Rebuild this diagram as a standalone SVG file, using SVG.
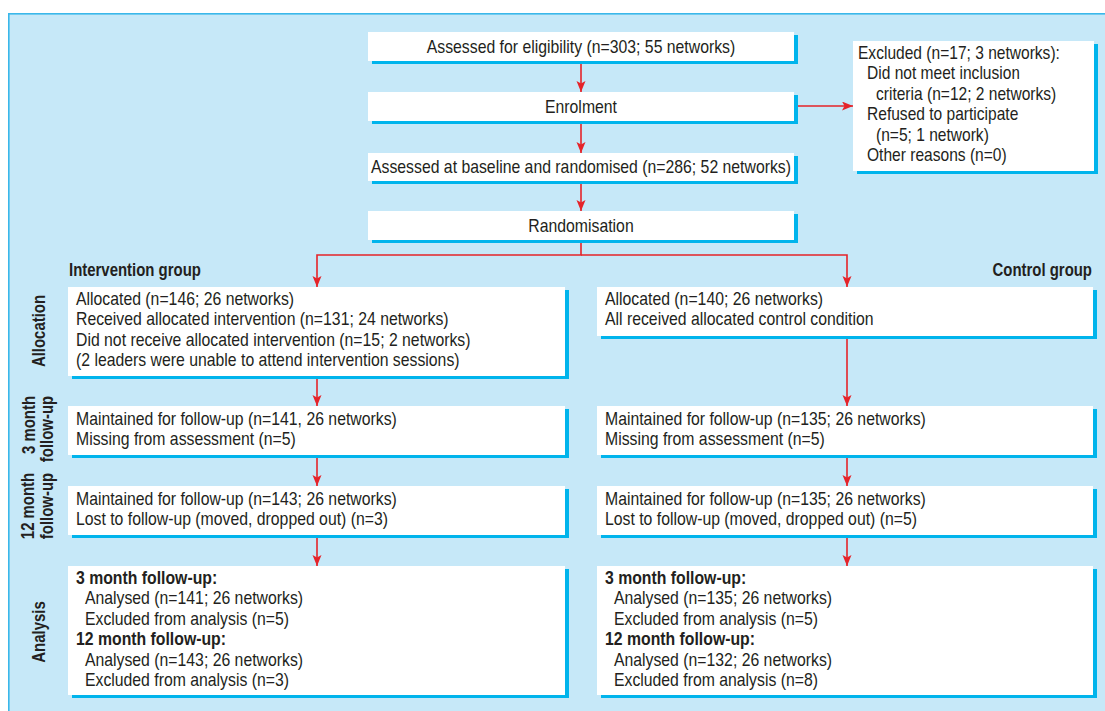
<svg xmlns="http://www.w3.org/2000/svg" width="1105" height="711" viewBox="0 0 1105 711">
<style>
.bg{fill:#c6e8f8;stroke:#3ab7ea;stroke-width:1.6}
.box{fill:#ffffff}
.sh{fill:#00b4ec}
.t{font-family:"Liberation Sans",Arial,sans-serif;font-size:18px;fill:#231f20}
.b{font-weight:bold}
.c{text-anchor:middle}
.e{text-anchor:end}
.ln{stroke:#e52329;stroke-width:1.6;fill:none}
</style>
<defs>
<marker id="ah" markerUnits="userSpaceOnUse" markerWidth="12" markerHeight="12" refX="11" refY="4.5" orient="auto">
<path d="M0,0 L11,4.5 L0,9 L2.5,4.5 z" fill="#e52329"/>
</marker>
</defs>
<rect width="1105" height="711" fill="#ffffff"/>
<rect class="bg" x="8.8" y="13.8" width="1100" height="700"/>

<g id="labels">
<text class="t b" transform="matrix(0.83,0,0,1,69,275.5)">Intervention group</text>
<text class="t b e" transform="matrix(0.83,0,0,1,1092,275.5)">Control group</text>
<text class="t b c" transform="translate(45,331) rotate(-90) scale(0.83,1)">Allocation</text>
<text class="t b c" transform="translate(35,425) rotate(-90) scale(0.83,1)">3 month</text>
<text class="t b c" transform="translate(53,429) rotate(-90) scale(0.83,1)">follow-up</text>
<text class="t b c" transform="translate(34,506) rotate(-90) scale(0.83,1)">12 month</text>
<text class="t b c" transform="translate(53,506) rotate(-90) scale(0.83,1)">follow-up</text>
<text class="t b c" transform="translate(45,632) rotate(-90) scale(0.83,1)">Analysis</text>
</g>

<g id="connectors">
<line class="ln" x1="581" y1="62" x2="581" y2="92" marker-end="url(#ah)"/>
<line class="ln" x1="581" y1="122" x2="581" y2="153" marker-end="url(#ah)"/>
<line class="ln" x1="581" y1="182" x2="581" y2="211" marker-end="url(#ah)"/>
<line class="ln" x1="794" y1="106" x2="853" y2="106" marker-end="url(#ah)"/>
<polyline class="ln" points="581,241 581,255 317,255 317,287" marker-end="url(#ah)"/>
<polyline class="ln" points="581,255 847,255 847,287" marker-end="url(#ah)"/>
<line class="ln" x1="317" y1="377" x2="317" y2="406" marker-end="url(#ah)"/>
<line class="ln" x1="317" y1="456" x2="317" y2="486" marker-end="url(#ah)"/>
<line class="ln" x1="317" y1="536" x2="317" y2="566" marker-end="url(#ah)"/>
<line class="ln" x1="847" y1="337" x2="847" y2="406" marker-end="url(#ah)"/>
<line class="ln" x1="847" y1="456" x2="847" y2="486" marker-end="url(#ah)"/>
<line class="ln" x1="847" y1="536" x2="847" y2="566" marker-end="url(#ah)"/>
</g>

<g id="eligibility">
<rect class="sh" x="372" y="35" width="426" height="29"/>
<rect class="box" x="368" y="32" width="426" height="29"/>
<text class="t c" transform="matrix(0.878,0,0,1,581,52.5)">Assessed for eligibility (n=303; 55 networks)</text>
</g>
<g id="enrolment">
<rect class="sh" x="372" y="95" width="426" height="29"/>
<rect class="box" x="368" y="92" width="426" height="29"/>
<text class="t c" transform="matrix(0.878,0,0,1,581,112.5)">Enrolment</text>
</g>
<g id="baseline">
<rect class="sh" x="372" y="156" width="426" height="28"/>
<rect class="box" x="368" y="153" width="426" height="28"/>
<text class="t c" transform="matrix(0.878,0,0,1,581,173)">Assessed at baseline and randomised (n=286; 52 networks)</text>
</g>
<g id="randomisation">
<rect class="sh" x="372" y="214" width="426" height="29"/>
<rect class="box" x="368" y="211" width="426" height="29"/>
<text class="t c" transform="matrix(0.878,0,0,1,581,231.5)">Randomisation</text>
</g>
<g id="excluded">
<rect class="sh" x="857" y="44" width="241" height="130"/>
<rect class="box" x="853" y="41" width="241" height="130"/>
<text class="t" transform="matrix(0.865,0,0,1,858,59)"><tspan x="0" y="0">Excluded (n=17; 3 networks):</tspan><tspan x="10.4" dy="20.5">Did not meet inclusion</tspan><tspan x="20.8" dy="20.5">criteria (n=12; 2 networks)</tspan><tspan x="10.4" dy="20.5">Refused to participate</tspan><tspan x="20.8" dy="20.5">(n=5; 1 network)</tspan><tspan x="10.4" dy="20.5">Other reasons (n=0)</tspan></text>
</g>

<g id="alloc-intervention">
<rect class="sh" x="72" y="290" width="497" height="89"/>
<rect class="box" x="68" y="287" width="497" height="89"/>
<text class="t" transform="matrix(0.878,0,0,1,76,305)"><tspan x="0" y="0">Allocated (n=146; 26 networks)</tspan><tspan x="0" dy="20.5">Received allocated intervention (n=131; 24 networks)</tspan><tspan x="0" dy="20.5">Did not receive allocated intervention (n=15; 2 networks)</tspan><tspan x="0" dy="20.5">(2 leaders were unable to attend intervention sessions)</tspan></text>
</g>
<g id="alloc-control">
<rect class="sh" x="601" y="290" width="496" height="49"/>
<rect class="box" x="597" y="287" width="496" height="49"/>
<text class="t" transform="matrix(0.878,0,0,1,605,305)"><tspan x="0" y="0">Allocated (n=140; 26 networks)</tspan><tspan x="0" dy="20.5">All received allocated control condition</tspan></text>
</g>

<g id="m3-intervention">
<rect class="sh" x="72" y="409" width="497" height="49"/>
<rect class="box" x="68" y="406" width="497" height="49"/>
<text class="t" transform="matrix(0.878,0,0,1,76,425)"><tspan x="0" y="0">Maintained for follow-up (n=141, 26 networks)</tspan><tspan x="0" dy="20.5">Missing from assessment (n=5)</tspan></text>
</g>
<g id="m3-control">
<rect class="sh" x="601" y="409" width="496" height="49"/>
<rect class="box" x="597" y="406" width="496" height="49"/>
<text class="t" transform="matrix(0.878,0,0,1,605,425)"><tspan x="0" y="0">Maintained for follow-up (n=135; 26 networks)</tspan><tspan x="0" dy="20.5">Missing from assessment (n=5)</tspan></text>
</g>

<g id="m12-intervention">
<rect class="sh" x="72" y="489" width="497" height="49"/>
<rect class="box" x="68" y="486" width="497" height="49"/>
<text class="t" transform="matrix(0.878,0,0,1,76,505)"><tspan x="0" y="0">Maintained for follow-up (n=143; 26 networks)</tspan><tspan x="0" dy="20.5">Lost to follow-up (moved, dropped out) (n=3)</tspan></text>
</g>
<g id="m12-control">
<rect class="sh" x="601" y="489" width="496" height="49"/>
<rect class="box" x="597" y="486" width="496" height="49"/>
<text class="t" transform="matrix(0.878,0,0,1,605,505)"><tspan x="0" y="0">Maintained for follow-up (n=135; 26 networks)</tspan><tspan x="0" dy="20.5">Lost to follow-up (moved, dropped out) (n=5)</tspan></text>
</g>

<g id="analysis-intervention">
<rect class="sh" x="72" y="569" width="497" height="129"/>
<rect class="box" x="68" y="566" width="497" height="129"/>
<text class="t" transform="matrix(0.878,0,0,1,76,584)"><tspan x="0" y="0" class="b">3 month follow-up:</tspan><tspan x="10.2" dy="20.5">Analysed (n=141; 26 networks)</tspan><tspan x="10.2" dy="20.5">Excluded from analysis (n=5)</tspan><tspan x="0" dy="20.5" class="b">12 month follow-up:</tspan><tspan x="10.2" dy="20.5">Analysed (n=143; 26 networks)</tspan><tspan x="10.2" dy="20.5">Excluded from analysis (n=3)</tspan></text>
</g>
<g id="analysis-control">
<rect class="sh" x="601" y="569" width="496" height="129"/>
<rect class="box" x="597" y="566" width="496" height="129"/>
<text class="t" transform="matrix(0.878,0,0,1,605,584)"><tspan x="0" y="0" class="b">3 month follow-up:</tspan><tspan x="10.2" dy="20.5">Analysed (n=135; 26 networks)</tspan><tspan x="10.2" dy="20.5">Excluded from analysis (n=5)</tspan><tspan x="0" dy="20.5" class="b">12 month follow-up:</tspan><tspan x="10.2" dy="20.5">Analysed (n=132; 26 networks)</tspan><tspan x="10.2" dy="20.5">Excluded from analysis (n=8)</tspan></text>
</g>
</svg>
